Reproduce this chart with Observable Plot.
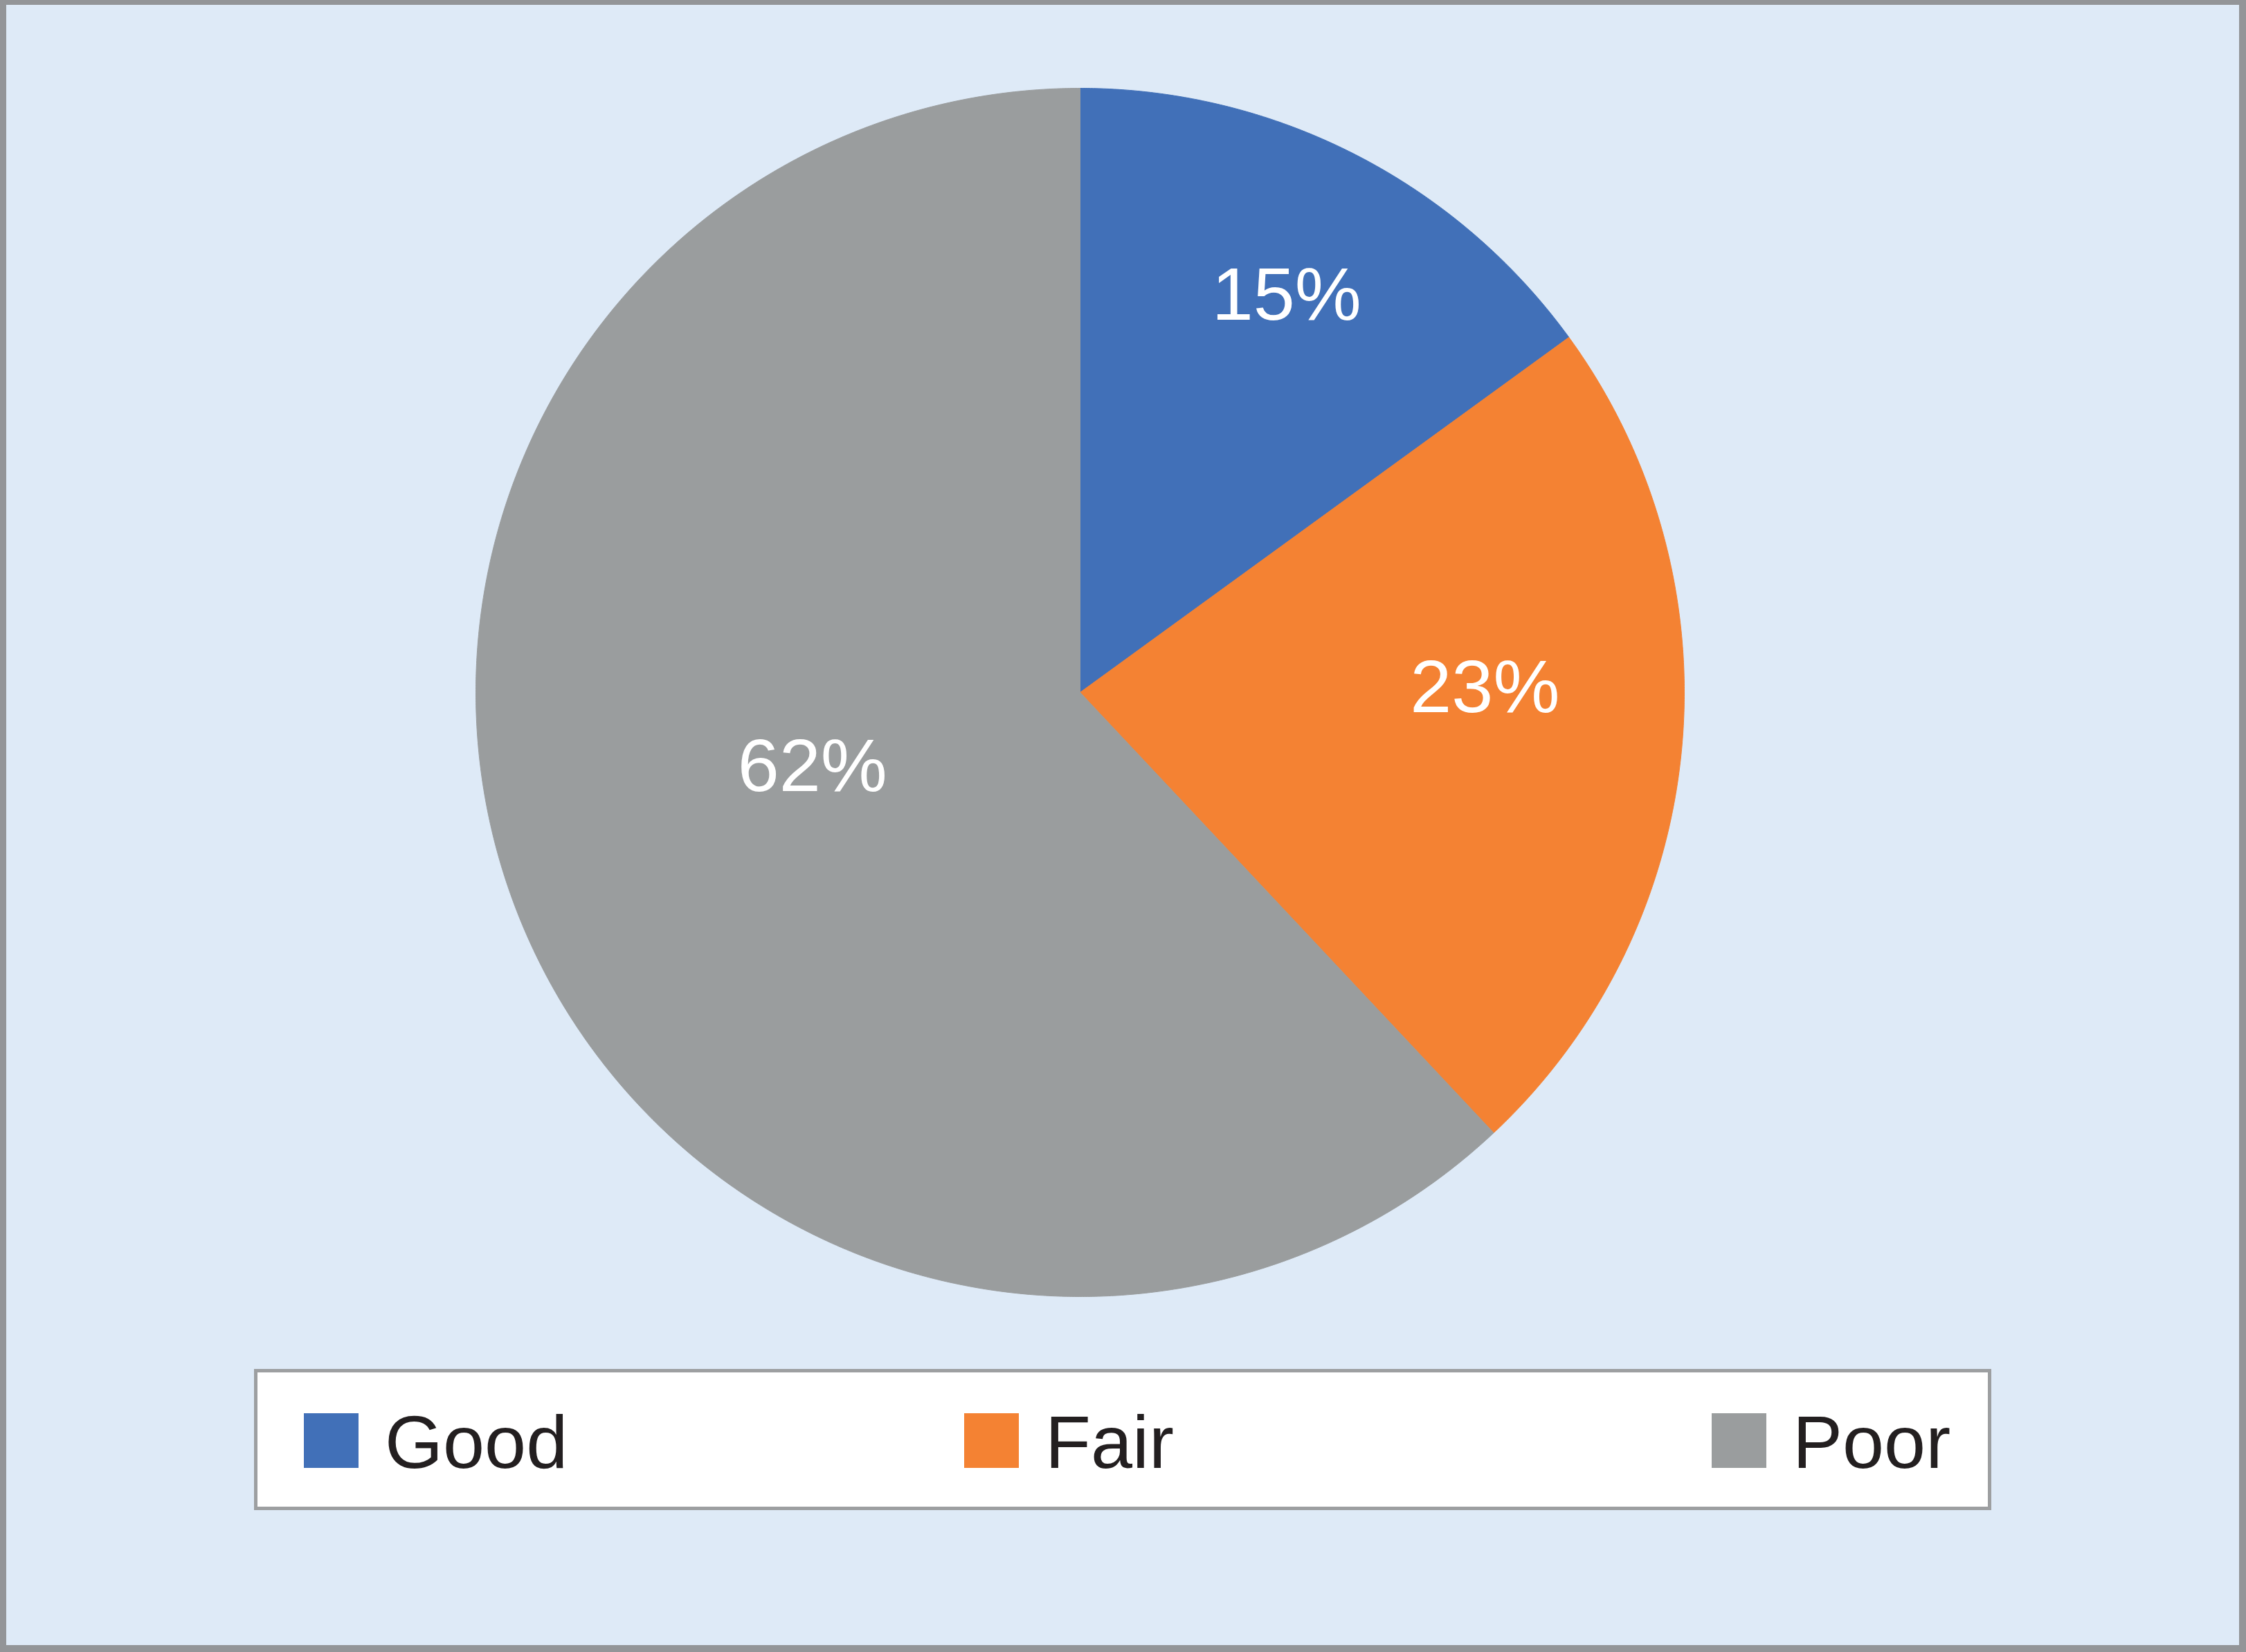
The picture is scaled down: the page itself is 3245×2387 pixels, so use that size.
<!DOCTYPE html>
<html>
<head>
<meta charset="utf-8">
<script src="https://cdn.jsdelivr.net/npm/d3@7"></script>
<script src="https://cdn.jsdelivr.net/npm/@observablehq/plot@0.6"></script>
<style>
  html, body { margin: 0; padding: 0; }
  body { width: 3245px; height: 2387px; position: relative; overflow: hidden; background: #deeaf7; font-family: "Liberation Sans", Arial, sans-serif; }
  #frame { position: absolute; left: 0; top: 0; width: 3245px; height: 2387px; box-sizing: border-box;
           border-style: solid; border-color: #939598; border-width: 7px 10px 10px 9px; background: #deeaf7; }
  #chart { position: absolute; left: 0; top: 0; }
  #legend { position: absolute; left: 367px; top: 1978px; width: 2510px; height: 204px; box-sizing: border-box;
            border: 5px solid #9d9fa1; background: #ffffff; }
  .item { position: absolute; top: 0; height: 100%; }
  .sw { position: absolute; left: 0; top: 59px; width: 79px; height: 79px; }
  .lab { position: absolute; left: 117px; top: 47px; font-size: 108px; line-height: 108px; color: #231f20; white-space: nowrap; }
</style>
</head>
<body>
<div id="frame"></div>
<div id="chart"></div>
<div id="legend"></div>
<script>
// ---- data ----
const categories = ["Good", "Fair", "Poor"];
const values = [15, 23, 62];
const labels = ["15%", "23%", "62%"];
const colors = ["#4170b8", "#f48233", "#9a9d9e"];

// ---- layout (not data) ----
const labelRadius = [0.74, 0.67, 0.46];
const labelTurnDeg = [0.5, -6, 6];
const legendLeft = [67, 1021, 2101];

const rows = categories.map((c, i) => ({cat: c, value: values[i], label: labels[i], i}));
const arcs = d3.pie().sort(null).value(d => d.value)(rows);

// polygon outline of each slice (center + arc), in unit-circle coordinates
const pts = [];
for (const a of arcs) {
  const cat = a.data.cat;
  pts.push({cat, x: 0, y: 0});
  const n = Math.max(2, Math.ceil((a.endAngle - a.startAngle) / (Math.PI / 720)));
  for (let k = 0; k <= n; k++) {
    const t = a.startAngle + (a.endAngle - a.startAngle) * k / n;
    pts.push({cat, x: Math.sin(t), y: Math.cos(t)});
  }
  pts.push({cat, x: 0, y: 0});
}

const labelPts = arcs.map(a => {
  const i = a.data.i;
  const m = (a.startAngle + a.endAngle) / 2 + labelTurnDeg[i] * Math.PI / 180;
  return {x: labelRadius[i] * Math.sin(m), y: labelRadius[i] * Math.cos(m), text: a.data.label};
});

const cx = 1560, cy = 1000, r = 873;
const chart = Plot.plot({
  width: 3245,
  height: 1975,
  margin: 0,
  x: {domain: [-1, 1], range: [cx - r, cx + r], axis: null},
  y: {domain: [-1, 1], range: [cy + r, cy - r], axis: null},
  color: {domain: categories, range: colors},
  style: {background: "transparent", fontFamily: "Liberation Sans, Arial, sans-serif"},
  marks: [
    Plot.line(pts, {x: "x", y: "y", z: "cat", fill: "cat", stroke: "cat", strokeWidth: 1, curve: "linear"}),
    Plot.text(labelPts, {x: "x", y: "y", text: "text", fill: "white", fontSize: 108})
  ]
});
document.getElementById("chart").appendChild(chart);

// legend from the same colour scale
const color = chart.scale("color");
const legend = document.getElementById("legend");
categories.forEach((c, i) => {
  const item = document.createElement("div");
  item.className = "item";
  item.style.left = legendLeft[i] + "px";
  const sw = document.createElement("div");
  sw.className = "sw";
  sw.style.background = color.apply(c);
  const lab = document.createElement("span");
  lab.className = "lab";
  lab.textContent = c;
  item.appendChild(sw);
  item.appendChild(lab);
  legend.appendChild(item);
});
</script>
</body>
</html>
